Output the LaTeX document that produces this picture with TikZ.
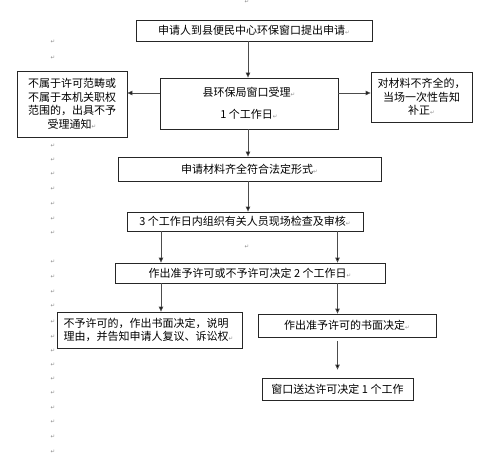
\documentclass[tikz,border=0pt]{standalone}
\usepackage{fontspec}
\setmainfont{Noto Sans CJK SC}
\newfontfamily\djv{DejaVu Sans}
\usetikzlibrary{arrows.meta}
\newcommand\pmk{{\djv\fontsize{5.5}{6}\selectfont\color{black!45}↵}}
\begin{document}
\begin{tikzpicture}[x=1pt,y=-1pt,
  box/.style={draw=black!85,line width=0.8pt,inner sep=0pt,align=center,
    font=\fontsize{11}{13.5}\selectfont},
  arr/.style={draw=black!70,line width=0.8pt,-{Triangle[width=4.5pt,length=5pt,fill=black]}},
  mk/.style={inner sep=0pt}]
\useasboundingbox (0,0) rectangle (500,457);
\node[box,minimum width=236,minimum height=21] (b1) at (254,30.5) {申请人到县便民中心环保窗口提出申请\pmk};
\node[box,minimum width=178,minimum height=51] (b2) at (249,103.5) {县环保局窗口受理\pmk\\[9pt]1 个工作日\pmk};
\node[box,minimum width=110,minimum height=66] (bl) at (72,104) {不属于许可范畴或\\不属于本机关职权\\范围的，出具不予\\受理通知\pmk};
\node[box,minimum width=101,minimum height=50] (br) at (421.5,97) {对材料不齐全的，\\当场一次性告知\\补正\pmk};
\node[box,minimum width=263,minimum height=24] (b3) at (249.5,169) {申请材料齐全符合法定形式\pmk};
\node[box,minimum width=236,minimum height=19] (b4) at (245,221.5) {3 个工作日内组织有关人员现场检查及审核\pmk};
\node[box,minimum width=270,minimum height=20] (b5) at (250,273) {作出准予许可或不予许可决定 2 个工作日\pmk};
\node[box,minimum width=185,minimum height=36,text width=172,align=left] (b6) at (149.5,330) {不予许可的，作出书面决定，说明\\理由，并告知申请人复议、诉讼权\pmk};
\node[box,minimum width=178,minimum height=23] (b7) at (347,325.5) {作出准予许可的书面决定\pmk};
\node[box,minimum width=151,minimum height=22] (b8) at (337.5,389) {窗口送达许可决定 1 个工作};
\coordinate (xm) at (248,0);
\coordinate (xl) at (161,0);
\coordinate (xr) at (337.5,0);
\draw[arr] (xm |- b1.south) -- (xm |- b2.north);
\draw[arr] (b2.west |- 0,93) -- (bl.east |- 0,93);
\draw[arr] (b2.east |- 0,93) -- (br.west |- 0,93);
\draw[arr] (xm |- b2.south) -- (xm |- b3.north);
\draw[arr] (xm |- b3.south) -- (xm |- b4.north);
\draw[arr] (xl |- b4.south) -- (xl |- b5.north);
\draw[arr] (xr |- b4.south) -- (xr |- b5.north);
\draw[arr] (xl |- b5.south) -- (xl |- b6.north);
\draw[arr] (xr |- b5.south) -- (xr |- b7.north);
\draw[arr,shorten <=4pt,shorten >=8pt] (xr |- b7.south) -- (xr |- b8.north);
\foreach \yy [count=\i] in {42,58,146,160,174,189,204,219,233,262,277,292,306,322,337,351,365,379,393,408,422,437,452}
  \node[mk] (m\i) at (53,\yy) {\pmk};
\node[mk] (ma) at (247,2) {\pmk};
\node[mk] (mb) at (247,247) {\pmk};
\end{tikzpicture}
\end{document}
